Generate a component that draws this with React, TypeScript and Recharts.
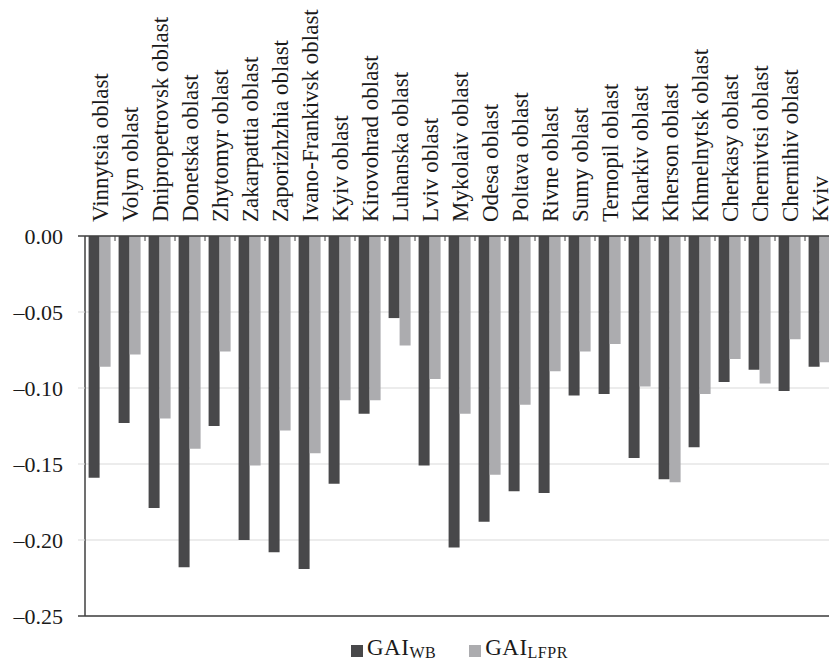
import { Bar, BarChart, CartesianGrid, Legend, ReferenceLine, XAxis, YAxis } from 'recharts';

const regions = [
  'Vinnytsia oblast', 'Volyn oblast', 'Dnipropetrovsk oblast', 'Donetska oblast', 'Zhytomyr oblast',
  'Zakarpattia oblast', 'Zaporizhzhia oblast', 'Ivano-Frankivsk oblast', 'Kyiv oblast', 'Kirovohrad oblast',
  'Luhanska oblast', 'Lviv oblast', 'Mykolaiv oblast', 'Odesa oblast', 'Poltava oblast',
  'Rivne oblast', 'Sumy oblast', 'Ternopil oblast', 'Kharkiv oblast', 'Kherson oblast',
  'Khmelnytsk oblast', 'Cherkasy oblast', 'Chernivtsi oblast', 'Chernihiv oblast', 'Kyiv',
];

const gaiWB = [
  -0.159, -0.123, -0.179, -0.218, -0.125, -0.2, -0.208, -0.219, -0.163, -0.117,
  -0.054, -0.151, -0.205, -0.188, -0.168, -0.169, -0.105, -0.104, -0.146, -0.16,
  -0.139, -0.096, -0.088, -0.102, -0.086,
];

const gaiLFPR = [
  -0.086, -0.078, -0.12, -0.14, -0.076, -0.151, -0.128, -0.143, -0.108, -0.108,
  -0.072, -0.094, -0.117, -0.157, -0.111, -0.089, -0.076, -0.071, -0.099, -0.162,
  -0.104, -0.081, -0.097, -0.068, -0.083,
];

const yTicks = [0, -0.05, -0.1, -0.15, -0.2, -0.25];

const data = regions.map((region, i) => ({ region, wb: gaiWB[i], lfpr: gaiLFPR[i] }));

const FONT = "'Liberation Serif', 'DejaVu Serif', serif";
const DARK = '#48484a';
const LIGHT = '#acacaf';
const AXIS = '#404040';
const GRID = '#d9d9d9';

function RegionTick(props: any) {
  const { x, y, payload } = props;
  return (
    <g>
      <line x1={x + 15} y1={y} x2={x + 15} y2={y + 5} stroke={AXIS} strokeWidth={1} />
      <text
        x={x + 7.5}
        y={y - 14}
        transform={`rotate(-90, ${x + 7.5}, ${y - 14})`}
        textAnchor="start"
        style={{ fontFamily: FONT }}
        fontSize={23}
        fill="#1a1a1a"
      >
        {payload.value}
      </text>
    </g>
  );
}

function ValueTick(props: any) {
  const { x, y, payload } = props;
  const v = payload.value as number;
  const edge = v === 0 || v === -0.25;
  const label = v === 0 ? '0.00' : '\u2013' + Math.abs(v).toFixed(2);
  return (
    <g>
      <line x1={x + 15} y1={y} x2={x + 22} y2={y} stroke={edge ? AXIS : GRID} strokeWidth={edge ? 1.5 : 1} />
      <text x={x} y={y} dy="0.35em" textAnchor="end" style={{ fontFamily: FONT }} fontSize={22} fill="#1a1a1a">
        {label}
      </text>
    </g>
  );
}

function LegendContent() {
  const item = (color: string, sub: string, gap: number) => (
    <div style={{ display: 'flex', alignItems: 'flex-end', marginRight: gap }}>
      <span style={{ display: 'inline-block', width: 12, height: 12, background: color, marginRight: 4, marginBottom: 4 }} />
      <span style={{ fontSize: 23, lineHeight: '23px', color: '#1a1a1a', letterSpacing: 0.5 }}>
        GAI
        <span style={{ fontSize: 16, position: 'relative', top: 3 }}>{sub}</span>
      </span>
    </div>
  );
  return (
    <div style={{ display: 'flex', paddingLeft: 351, paddingTop: 20, fontFamily: FONT }}>
      {item(DARK, 'WB', 33)}
      {item(LIGHT, 'LFPR', 0)}
    </div>
  );
}

export default function App() {
  return (
    <div style={{ position: 'fixed', left: 0, top: 0, width: 829, height: 666, overflow: 'hidden', background: '#fff', fontFamily: FONT }}>
      <BarChart
        width={860}
        height={666}
        data={data}
        margin={{ top: 36, right: 25, bottom: 0, left: 0 }}
        barCategoryGap="12%"
        barGap={0}
      >
        <CartesianGrid vertical={false} stroke={GRID} />
        <XAxis
          dataKey="region"
          orientation="top"
          height={200}
          interval={0}
          tickLine={false}
          tickSize={0}
          tickMargin={0}
          tick={<RegionTick />}
          axisLine={{ stroke: AXIS, strokeWidth: 1.5 }}
        />
        <YAxis
          domain={[-0.25, 0]}
          ticks={yTicks}
          width={85}
          tickLine={false}
          tickSize={7}
          tickMargin={15}
          tick={<ValueTick />}
          axisLine={{ stroke: AXIS, strokeWidth: 1.5 }}
        />
        <ReferenceLine y={-0.25} stroke={AXIS} strokeWidth={1.5} />
        <Legend
          verticalAlign="bottom"
          content={<LegendContent />}
          wrapperStyle={{ left: 0, width: 860, height: 50 }}
        />
        <Bar dataKey="wb" name="GAI WB" fill={DARK} isAnimationActive={false} />
        <Bar dataKey="lfpr" name="GAI LFPR" fill={LIGHT} isAnimationActive={false} />
      </BarChart>
    </div>
  );
}
